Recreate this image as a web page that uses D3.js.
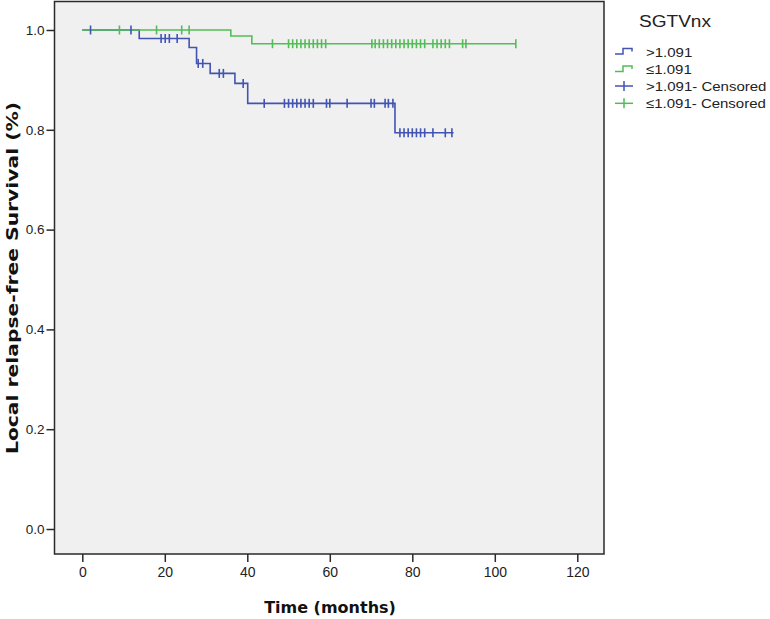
<!DOCTYPE html>
<html><head><meta charset="utf-8">
<script src="https://cdn.jsdelivr.net/npm/d3@7"></script>
<style>body{margin:0;background:#fff}svg{display:block}text{font-family:"Liberation Sans",Arial,sans-serif}</style>
</head><body>
<script>
// ---- data ----
const xTicks = [0, 20, 40, 60, 80, 100, 120];
const yTicks = [0.0, 0.2, 0.4, 0.6, 0.8, 1.0];
const seriesNames = [">1.091", "≤1.091"];
// step events: [time, survival after step]
const blueSteps = [[0, 1.0], [13.8, 0.983], [25.9, 0.965], [27.7, 0.933], [31.0, 0.913], [37.0, 0.893], [40.1, 0.853], [75.8, 0.794]];
const blueEnd = 90.0;
const blueCensored = [2, 11.8, 19.1, 20.1, 21.1, 23.0, 28.1, 29.2, 33.2, 34.2, 39.0, 44.1, 49, 50, 51, 52, 53, 54, 55, 56, 59.2, 60.0, 64.2, 70.0, 70.8, 73.4, 74.2, 75.3, 77, 78, 79, 80, 81, 82, 83, 85, 88, 89.6];
const greenSteps = [[0, 1.0], [36.0, 0.988], [41.1, 0.9725]];
const greenEnd = 105.1;
const greenCensored = [9.0, 18.0, 24.1, 25.9, 46.1, 50, 51, 52, 53, 54, 55, 56, 57, 58, 59, 70.2, 71.0, 72, 73, 74, 75, 76, 77, 78, 79, 80, 81, 82, 83, 85, 86, 87, 88, 89, 92.2, 93.0, 105.1];

const blue = "#4154b2", green = "#52bd57";

const W = 770, H = 619;
const svg = d3.select("body").append("svg").attr("width", W).attr("height", H);

const plot = {x0: 54.5, x1: 604, y0: 1.5, y1: 554};
const x = d3.scaleLinear().domain([0, 120]).range([82.3, 577.3]);
const y = d3.scaleLinear().domain([0, 1]).range([529, 30]);

svg.append("rect").attr("x", plot.x0).attr("y", plot.y0)
  .attr("width", plot.x1 - plot.x0).attr("height", plot.y1 - plot.y0)
  .attr("fill", "#f0f0f0").attr("stroke", "#2a2a2a").attr("stroke-width", 1.5);

// axes
const xAxis = svg.append("g").attr("transform", `translate(0,${plot.y1})`)
  .call(d3.axisBottom(x).tickValues(xTicks).tickSize(8).tickPadding(5).tickFormat(d3.format("d")));
xAxis.select(".domain").remove();
xAxis.selectAll("line").attr("stroke", "#2a2a2a").attr("stroke-width", 1.5);
xAxis.selectAll("text").attr("font-size", 14).attr("fill", "#222").attr("font-family", "Liberation Sans, Arial");

const yAxis = svg.append("g").attr("transform", `translate(${plot.x0},0)`)
  .call(d3.axisLeft(y).tickValues(yTicks).tickSize(8).tickPadding(2).tickFormat(d3.format(".1f")));
yAxis.select(".domain").remove();
yAxis.selectAll("line").attr("stroke", "#2a2a2a").attr("stroke-width", 1.5);
yAxis.selectAll("text").attr("font-size", 13.5).attr("fill", "#222").attr("font-family", "Liberation Sans, Arial");

// titles
svg.append("text").attr("x", 330).attr("y", 613).attr("text-anchor", "middle")
  .style("font-family", "DejaVu Sans, sans-serif")
  .attr("font-size", 16).attr("font-weight", "bold").attr("fill", "#111").text("Time (months)");
svg.append("text").attr("transform", `translate(18,278) rotate(-90)`).attr("text-anchor", "middle")
  .style("font-family", "DejaVu Sans, sans-serif")
  .attr("textLength", 352).attr("lengthAdjust", "spacingAndGlyphs")
  .attr("font-size", 16).attr("font-weight", "bold").attr("fill", "#111").text("Local relapse-free Survival (%)");

function survAt(steps, t) {
  let s = steps[0][1];
  for (const [tt, v] of steps) if (tt <= t) s = v;
  return s;
}
function stepPath(steps, end) {
  const pts = [];
  steps.forEach((d, i) => {
    if (i > 0) pts.push([d[0], steps[i - 1][1]]);
    pts.push(d);
  });
  pts.push([end, steps[steps.length - 1][1]]);
  return d3.line().x(d => x(d[0])).y(d => y(d[1]))(pts);
}

const series = [
  {steps: blueSteps, end: blueEnd, cens: blueCensored, color: blue},
  {steps: greenSteps, end: greenEnd, cens: greenCensored, color: green}
];
series.forEach(s => {
  svg.append("path").attr("d", stepPath(s.steps, s.end)).attr("fill", "none")
    .attr("stroke", s.color).attr("stroke-width", 1.6);
});
series.forEach(s => {
  const g = svg.append("g").attr("stroke", s.color).attr("stroke-width", 1.6);
  s.cens.forEach(t => {
    const cx = x(t), cy = y(survAt(s.steps, t));
    g.append("line").attr("x1", cx).attr("x2", cx).attr("y1", cy - 4.5).attr("y2", cy + 4.5);
  });
});

// legend
const lt = svg.append("text").attr("x", 639).attr("y", 27).attr("font-size", 16).attr("fill", "#222").text("SGTVnx");
lt.attr("textLength", 72).attr("lengthAdjust", "spacingAndGlyphs");
const legItems = [
  {label: seriesNames[0], color: blue, type: "step"},
  {label: seriesNames[1], color: green, type: "step"},
  {label: seriesNames[0] + "- Censored", color: blue, type: "cens"},
  {label: seriesNames[1] + "- Censored", color: green, type: "cens"}
];
const legY = [51.5, 69, 86, 103.3];
legItems.forEach((d, i) => {
  const cy = legY[i];
  if (d.type === "step") {
    svg.append("path").attr("d", `M615,${cy + 2.5}H623V${cy - 3}H632V${cy}`)
      .attr("fill", "none").attr("stroke", d.color).attr("stroke-width", 1.5);
  } else {
    svg.append("line").attr("x1", 615).attr("x2", 633).attr("y1", cy).attr("y2", cy).attr("stroke", d.color).attr("stroke-width", 1.5);
    svg.append("line").attr("x1", 624).attr("x2", 624).attr("y1", cy - 5).attr("y2", cy + 5).attr("stroke", d.color).attr("stroke-width", 1.5);
  }
  const t = svg.append("text").attr("x", 646).attr("y", cy + 5).attr("font-size", 13.5).attr("fill", "#222").text(d.label);
  const len = t.node().getComputedTextLength();
  t.attr("textLength", len * 1.11).attr("lengthAdjust", "spacingAndGlyphs");
});
</script>
</body></html>
